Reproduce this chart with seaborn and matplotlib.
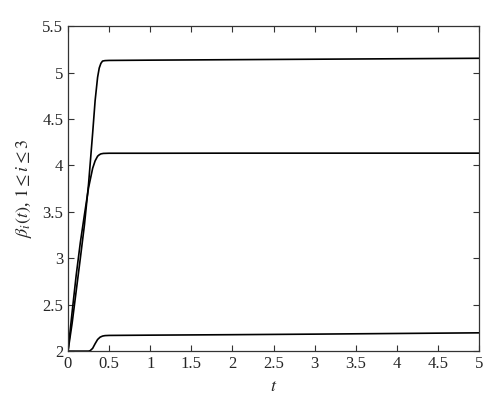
import numpy as np
import pandas as pd
import matplotlib
matplotlib.use("Agg")
import matplotlib.pyplot as plt
import seaborn as sns

# values
t_upper = [0, 0.05, 0.1, 0.15, 0.2, 0.25, 0.3, 0.33, 0.36, 0.38, 0.4, 0.42, 0.45, 0.5, 1, 2, 3, 4, 5]
beta_upper = [2.0, 2.3, 2.65, 3.0, 3.36, 3.8, 4.35, 4.7, 4.95, 5.05, 5.1, 5.125, 5.13, 5.132, 5.135, 5.14, 5.145, 5.15, 5.155]

t_middle = [0, 0.05, 0.1, 0.15, 0.2, 0.25, 0.3, 0.33, 0.36, 0.38, 0.4, 0.43, 0.5, 1, 2, 3, 4, 5]
beta_middle = [2.0, 2.42, 2.82, 3.17, 3.47, 3.76, 3.97, 4.05, 4.1, 4.115, 4.125, 4.13, 4.132, 4.132, 4.133, 4.133, 4.133, 4.133]

t_lower = [0, 0.25, 0.27, 0.3, 0.33, 0.36, 0.39, 0.42, 0.45, 0.5, 1, 2, 3, 4, 5]
beta_lower = [2.0, 2.0, 2.005, 2.03, 2.08, 2.125, 2.15, 2.162, 2.167, 2.169, 2.172, 2.177, 2.183, 2.19, 2.197]

x_ticks = [0, 0.5, 1, 1.5, 2, 2.5, 3, 3.5, 4, 4.5, 5]
y_ticks = [2, 2.5, 3, 3.5, 4, 4.5, 5, 5.5]

df = pd.concat([
    pd.DataFrame({"t": t_upper, "beta": beta_upper, "i": "1"}),
    pd.DataFrame({"t": t_middle, "beta": beta_middle, "i": "2"}),
    pd.DataFrame({"t": t_lower, "beta": beta_lower, "i": "3"}),
])

sns.set_style("ticks")
plt.rcParams["font.family"] = ["Liberation Serif", "DejaVu Serif"]
plt.rcParams["mathtext.fontset"] = "stix"

fig = plt.figure(figsize=(5, 4.17), dpi=100)
ax = fig.add_axes([0.136, 0.158, 0.822, 0.779])

sns.lineplot(data=df, x="t", y="beta", units="i", estimator=None,
             color="black", lw=1.2, ax=ax, sort=False)

ax.set_xlim(0, 5)
ax.set_ylim(2, 5.5)
ax.set_xticks(x_ticks)
ax.set_xticklabels([f"{v:g}" for v in x_ticks])
ax.set_yticks(y_ticks)
ax.set_yticklabels([f"{v:g}" for v in y_ticks])
ax.tick_params(direction="in", top=True, right=True, labelsize=12, length=4,
               color="#333333", width=0.8)
for s in ax.spines.values():
    s.set_visible(True)
    s.set_color("#333333")
    s.set_linewidth(0.9)

ax.set_xlabel("$t$", fontsize=13, labelpad=4)
ax.set_ylabel(r"$\beta_i(t)$, $1 \leq i \leq 3$", fontsize=13, labelpad=6)

fig.savefig("out.png", dpi=100)
